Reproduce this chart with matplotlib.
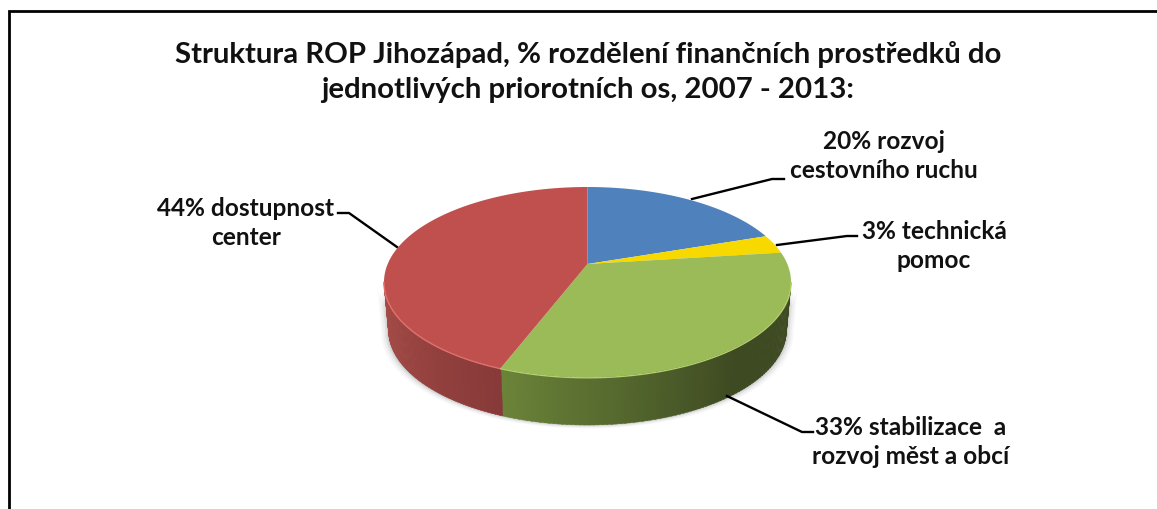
import numpy as np
import matplotlib
matplotlib.use("Agg")
import matplotlib.pyplot as plt
from matplotlib.colors import to_rgb

plt.rcParams['font.family'] = ['Lato', 'DejaVu Sans']

title_lines = ["Struktura ROP Jihozápad, % rozdělení finančních prostředků do",
               "jednotlivých priorotních os, 2007 - 2013:"]
# procenta v popiscich se lisi od toho, jak jsou vysece nakreslene
categories = ["20% rozvoj\ncestovního ruchu", "3% technická\npomoc",
              "33% stabilizace  a\nrozvoj měst a obcí", "44% dostupnost\ncenter"]
slice_values = [17, 3, 37, 43]
top_colors = ["#4f81bd", "#f7d900", "#9bbb59", "#c0504d"]
wall_left = ["#4f81bd", "#f7d900", "#6b8439", "#a84c48"]
wall_right = ["#4f81bd", "#f7d900", "#3e4a22", "#873a39"]

W, H = 1157, 510
CX, CY = 587.5, 283.0
A, B = 203.5, 95.0
APEX_Y = 265.0
DEPTH = 48.0
A_BOTTOM = 199.0


def rim(theta, a=A, dy=0.0):
    # theta ve stupnich, po smeru hodin od vrcholu
    t = np.radians(theta)
    return CX + a * np.sin(t), CY + dy - B * np.cos(t)


fig = plt.figure(figsize=(W / 100, H / 100), dpi=100)
ax = fig.add_axes([0, 0, 1, 1])
ax.set_xlim(0, W)
ax.set_ylim(H, 0)
ax.axis('off')

# ramecek
ax.plot([8.5, 8.5, 1157], [510, 12, 12], color='black', lw=2.0, solid_joinstyle='miter')

edges = np.concatenate([[0], np.cumsum(slice_values)]) / np.sum(slice_values) * 360.0

# mekky stin okolo steny
for grow, alpha in [(7, 0.03), (5, 0.04), (3, 0.06), (1.5, 0.08)]:
    th = np.linspace(90, 270, 120)
    x_top, y_top = rim(th, a=A + grow)
    x_bot, y_bot = rim(th, a=A_BOTTOM + grow, dy=DEPTH + grow * 0.5)
    ax.fill(np.r_[x_top, x_bot[::-1]], np.r_[y_top, y_bot[::-1]],
            color='black', alpha=alpha, lw=0, zorder=1)

# stena po malych pasech, at je tam prechod
for i in range(len(slice_values)):
    lo = max(edges[i], 90.0)
    hi = min(edges[i + 1], 270.0)
    if hi <= lo:
        continue
    c0 = np.array(to_rgb(wall_left[i]))
    c1 = np.array(to_rgb(wall_right[i]))
    steps = np.linspace(lo, hi, 90)
    for j in range(len(steps) - 1):
        a0, a1 = steps[j], steps[j + 1] + 0.3
        # zleva doprava tmavne, zelena uz zhruba od pulky
        f = (hi - steps[j]) / (hi - lo)
        if i == 2:
            f = min(1.0, f * 1.6)
        col = c0 * (1 - f) + c1 * f
        xa, ya = rim(np.array([a0, a1]))
        xb, yb = rim(np.array([a0, a1]), a=A_BOTTOM, dy=DEPTH)
        ax.fill([xa[0], xa[1], xb[1], xb[0]], [ya[0], ya[1], yb[1], yb[0]],
                color=col, lw=0.3, ec=col, zorder=2)

# vrchni plocha
for i, col in enumerate(top_colors):
    th = np.linspace(edges[i], edges[i + 1], 100)
    xs, ys = rim(th)
    ax.fill(np.r_[CX, xs], np.r_[APEX_Y, ys], color=col, lw=0, zorder=3)

# svetly okraj vrchni plochy
for i, col in [(3, "#e2716b"), (2, "#b4d16c")]:
    th = np.linspace(max(edges[i], 90), min(edges[i + 1], 270), 80)
    xs, ys = rim(th)
    ax.plot(xs, ys + 0.8, color=col, lw=1.0, zorder=4)

# titulek
ax.text(588, 54, title_lines[0], ha='center', va='center', fontsize=21.2, fontweight='bold', color='#111111')
ax.text(588, 90, title_lines[1], ha='center', va='center', fontsize=21.2, fontweight='bold', color='#111111')

# popisky s odkazovymi carami
label_pos = [(884, 156), (934, 246), (911, 442), (246, 223)]
for (tx, ty), cat in zip(label_pos, categories):
    ax.text(tx, ty, cat, ha='center', va='center', fontsize=17.6, fontweight='bold',
            color='#111111', linespacing=1.33)

leaders = [([692, 772, 784], [200, 180, 180]),
           ([777, 847, 857], [246, 237, 237]),
           ([727, 802, 813], [397, 433, 433]),
           ([397, 349, 338], [248, 214, 214])]
for lx, ly in leaders:
    ax.plot(lx, ly, color='black', lw=1.7, zorder=2)

fig.savefig("out.png", dpi=100)
